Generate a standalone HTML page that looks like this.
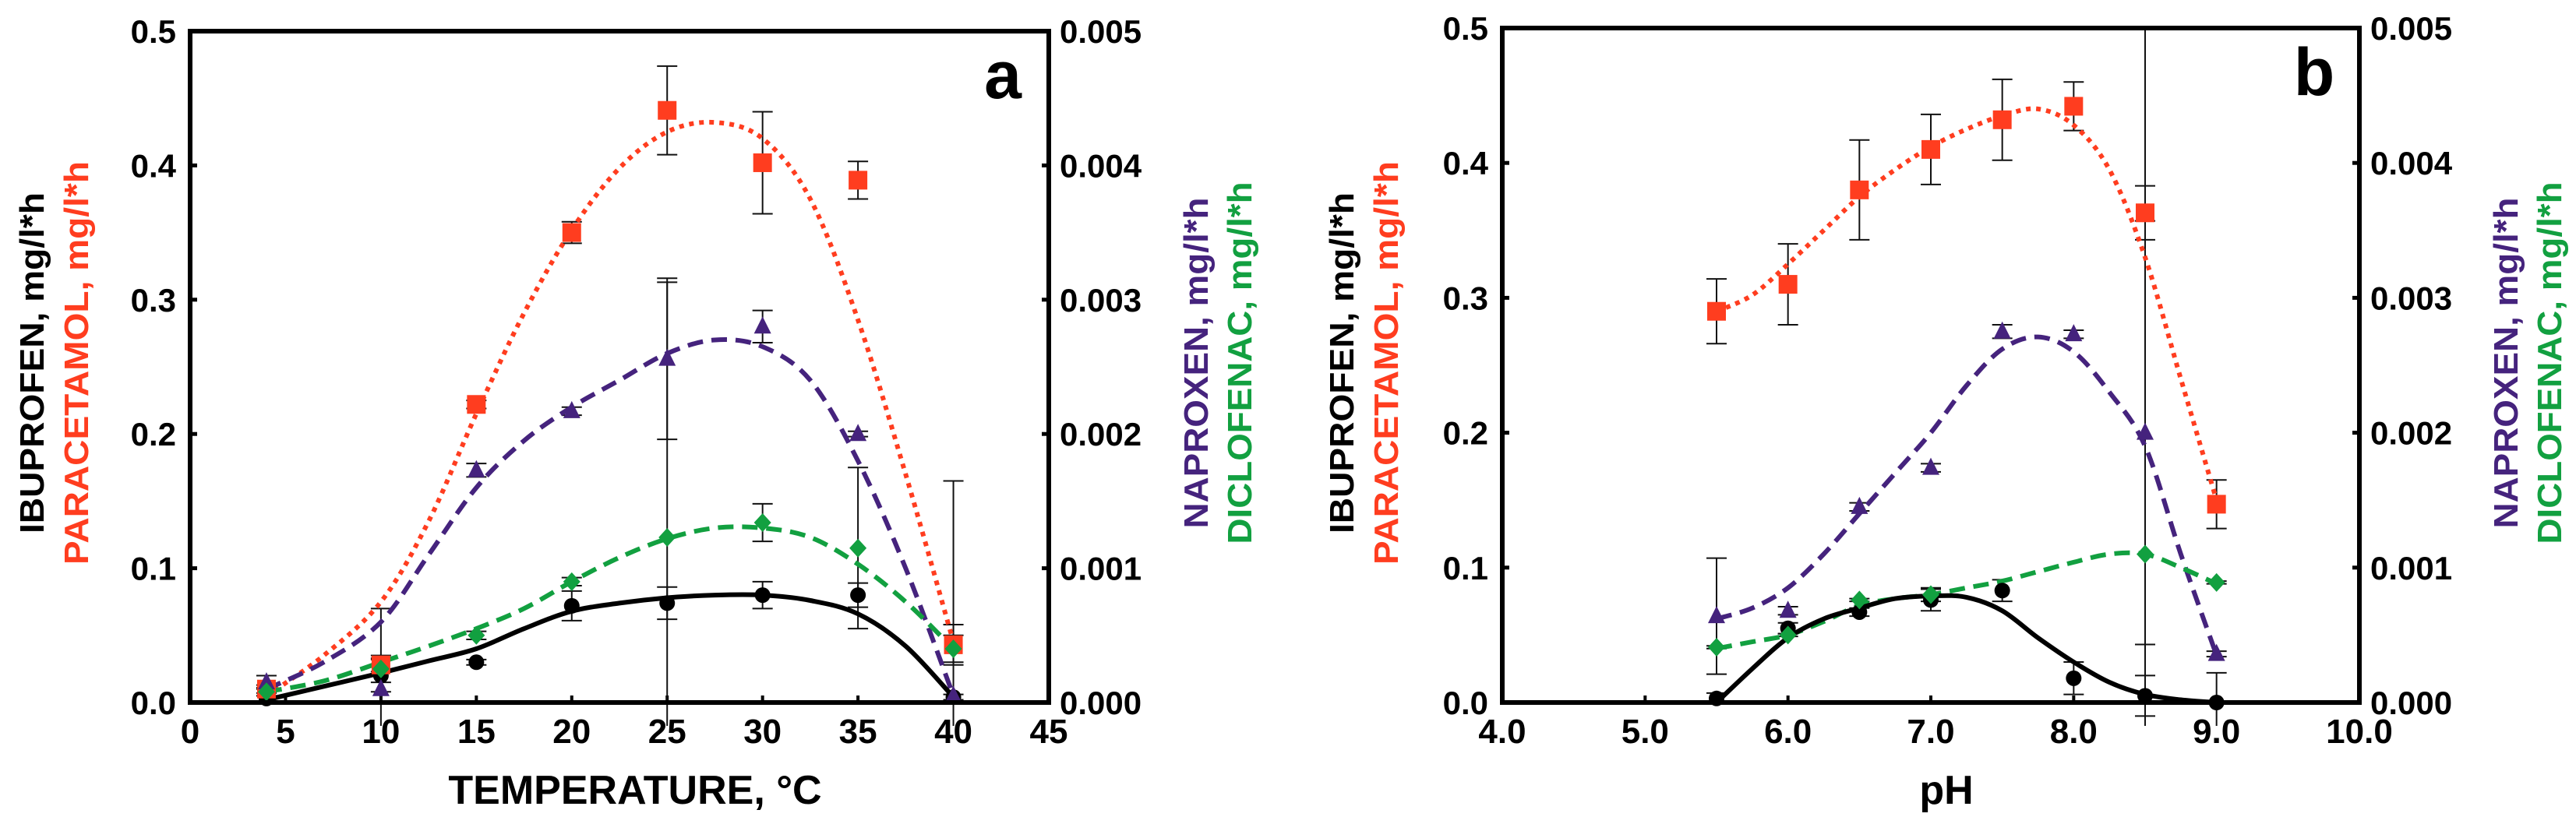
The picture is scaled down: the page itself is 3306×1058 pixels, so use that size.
<!DOCTYPE html>
<html><head><meta charset="utf-8"><style>
html,body{margin:0;padding:0;background:#fff;}
svg{display:block;font-family:"Liberation Sans",sans-serif;font-weight:bold;}
</style></head><body>
<svg id="chart" width="3306" height="1058" viewBox="0 0 3306 1058" xmlns="http://www.w3.org/2000/svg"></svg>
<script>
// ---------- Panel a data (temperature) ----------
const aX = [4,10,15,20,25,30,35,40];
const aPara = [0.010,0.028,0.222,0.350,0.441,0.402,0.389,0.043];
const aParaErr = [0.003,0.005,0.003,0.008,0.033,0.038,0.014,0.015];
const aNap = [0.00015,0.0001,0.00173,0.00217,0.00256,0.0028,0.0020,0.00005];
const aNapErr = [0.00005,0.0006,0.00005,0.00003,0.0006,0.00012,0.00002,0.0016];
const aDic = [0.00008,0.00025,0.0005,0.0009,0.00123,0.00134,0.00115,0.0004];
const aDicErr = [0.00003,0.0001,0.00003,0.00003,0.0019,0.00014,0.0006,0.0001];
const aIbu = [0.003,0.020,0.030,0.072,0.074,0.080,0.080,0.004];
const aIbuErr = [0.002,0.012,0.002,0.011,0.012,0.010,0.009,0.002];
const aFitX = [4,7,10,12.5,15,17.5,20,22.5,25,27.5,30,32.5,35,37.5,40];
const aParaFit = [0.005,0.035,0.075,0.135,0.215,0.29,0.352,0.398,0.425,0.432,0.42,0.375,0.285,0.17,0.045];
const aNapFit = [0.0001,0.0003,0.0006,0.0011,0.0016,0.00195,0.0022,0.0024,0.0026,0.0027,0.00265,0.0024,0.0018,0.001,0.00005];
const aDicFit = [0.00008,0.00016,0.0003,0.00042,0.00055,0.0007,0.0009,0.00108,0.00122,0.0013,0.0013,0.00123,0.00103,0.00075,0.0004];
const aIbuFit = [0.002,0.012,0.022,0.031,0.040,0.055,0.068,0.074,0.078,0.080,0.080,0.076,0.066,0.042,0.004];
const aXTicks = [0,5,10,15,20,25,30,35,40,45];

// ---------- Panel b data (pH) ----------
const bX = [5.5,6,6.5,7,7.5,8,8.5,9];
const bPara = [0.290,0.310,0.380,0.410,0.432,0.442,0.363,0.147];
const bParaErr = [0.024,0.030,0.037,0.026,0.030,0.018,0.020,0.018];
const bNap = [0.00064,0.00068,0.00145,0.00174,0.00275,0.00273,0.0020,0.00036];
const bNapErr = [0.00043,0.00003,0.00003,0.00003,0.00005,0.00003,0.00157,0.00002];
const bDicX = [5.5,6,6.5,7,8.5,9];
const bDic = [0.00041,0.0005,0.00076,0.0008,0.0011,0.00089];
const bDicErr = [0.00001,0.00001,0.00001,0.00005,0.0039,0.00001];
const bIbu = [0.003,0.055,0.067,0.076,0.083,0.018,0.005,0.000];
const bIbuErr = [0.004,0.004,0.003,0.008,0.008,0.012,0.015,0.022];
const bFitX = [5.5,5.75,6,6.25,6.5,6.75,7,7.25,7.5,7.75,8,8.25,8.5,8.75,9];
const bParaFit = [0.29,0.302,0.325,0.35,0.375,0.395,0.412,0.425,0.435,0.44,0.428,0.395,0.33,0.24,0.15];
const bNapFit = [0.00062,0.0007,0.00085,0.0011,0.0014,0.0017,0.002,0.00235,0.00262,0.00271,0.0026,0.0023,0.0019,0.0011,0.00035];
const bDicFit = [0.0004,0.00045,0.0005,0.0006,0.00072,0.00077,0.0008,0.00085,0.0009,0.00097,0.00104,0.0011,0.0011,0.001,0.00088];
const bIbuFit = [0.0,0.025,0.048,0.062,0.07,0.077,0.079,0.078,0.068,0.048,0.03,0.015,0.006,0.002,0.0];
const bXTicks = [4,5,6,7,8,9,10];

const leftTicks = [0,0.1,0.2,0.3,0.4,0.5];
const rightTicks = [0,0.001,0.002,0.003,0.004,0.005];

const NS='http://www.w3.org/2000/svg';
const svg=document.getElementById('chart');
const RED='#ff3d1f', PUR='#45237d', GRN='#12a040', BLK='#000';
function mk(tag,attrs,parent){const e=document.createElementNS(NS,tag);for(const k in attrs)e.setAttribute(k,attrs[k]);(parent||svg).appendChild(e);return e;}

function smooth(pts){
  let d='M'+pts[0][0]+','+pts[0][1];
  for(let i=0;i<pts.length-1;i++){
    const p0=pts[i-1]||pts[i],p1=pts[i],p2=pts[i+1],p3=pts[i+2]||p2;
    const c1=[p1[0]+(p2[0]-p0[0])/6,p1[1]+(p2[1]-p0[1])/6];
    const c2=[p2[0]-(p3[0]-p1[0])/6,p2[1]-(p3[1]-p1[1])/6];
    d+=' C'+c1[0].toFixed(1)+','+c1[1].toFixed(1)+' '+c2[0].toFixed(1)+','+c2[1].toFixed(1)+' '+p2[0].toFixed(1)+','+p2[1].toFixed(1);
  }
  return d;
}

function panel(cfg){
  const g=mk('g',{});
  
  
  const L=cfg.left,R=cfg.right,T=cfg.top,B=cfg.bottom;
  const sx=v=>L+(v-cfg.xmin)/(cfg.xmax-cfg.xmin)*(R-L);
  const syL=v=>B-v/0.5*(B-T);
  const syR=v=>B-v/0.005*(B-T);
  const clip=y=>Math.max(T,Math.min(B+30,y));
  leftTicks.forEach(t=>{
    const y=syL(t);
    mk('line',{x1:L,x2:L+9,y1:y,y2:y,stroke:'#000','stroke-width':5},g);
    const tx=mk('text',{x:L-18,y:y+15,'text-anchor':'end','font-size':42},g);
    
    
    tx.textContent=t.toFixed(1);
  });
  rightTicks.forEach(t=>{
    const y=syR(t);
    mk('line',{x1:R-9,x2:R,y1:y,y2:y,stroke:'#000','stroke-width':5},g);
    const tx=mk('text',{x:R+14,y:y+15,'font-size':42},g);
    
    
    tx.textContent=t.toFixed(3);
  });
  cfg.xticks.forEach(t=>{
    const x=sx(t);
    mk('line',{x1:x,x2:x,y1:B-9,y2:B,stroke:'#000','stroke-width':4},g);
    const tx=mk('text',{x:x,y:B+52,'text-anchor':'middle','font-size':44},g);
    
    
    tx.textContent=cfg.xfmt(t);
  });
  function errs(xs,ys,es,sy,name){
    xs.forEach((xv,i)=>{
      const x=sx(xv),y1=clip(sy(ys[i]+es[i])),y2=clip(sy(ys[i]-es[i]));
      const e=mk('path',{d:'M'+x+','+y1+'V'+y2+(sy(ys[i]+es[i])>=T?' M'+(x-13)+','+y1+'h26':'')+(sy(ys[i]-es[i])<=B+30?' M'+(x-13)+','+y2+'h26':''),stroke:'#111','stroke-width':2,fill:'none'},g);
      
      
    });
  }
  errs(cfg.x,cfg.para,cfg.paraErr,syL,'paracetamol');
  errs(cfg.x,cfg.nap,cfg.napErr,syR,'naproxen');
  errs(cfg.dicX,cfg.dic,cfg.dicErr,syR,'diclofenac');
  errs(cfg.x,cfg.ibu,cfg.ibuErr,syL,'ibuprofen');
  function fit(ys,sy,color,dash,name){
    const p=mk('path',{d:smooth(cfg.fitX.map((xv,i)=>[sx(xv),sy(ys[i])])),stroke:color,'stroke-width':6,fill:'none','stroke-dasharray':dash==='dot'?'6 7':(dash?'20 11':'none')},g);
    
    
  }
  fit(cfg.paraFit,syL,RED,'dot','paracetamol');
  fit(cfg.napFit,syR,PUR,true,'naproxen');
  fit(cfg.dicFit,syR,GRN,true,'diclofenac');
  fit(cfg.ibuFit,syL,BLK,false,'ibuprofen');
  cfg.x.forEach((xv,i)=>{
    const x=sx(xv);
    let y=syL(cfg.ibu[i]);
    const c=mk('circle',{cx:x,cy:y,r:10,fill:'#000'},g);
    
    
    y=syL(cfg.para[i]);
    const s=mk('rect',{x:x-12,y:y-12,width:24,height:24,fill:RED},g);
    
    
    y=syR(cfg.nap[i]);
    const t=mk('path',{d:'M'+x+','+(y-13)+' L'+(x+11)+','+(y+9)+' L'+(x-11)+','+(y+9)+'Z',fill:PUR},g);
    
    
  });
  cfg.dicX.forEach((xv,i)=>{
    const x=sx(xv),y=syR(cfg.dic[i]);
    const d=mk('path',{d:'M'+x+','+(y-12)+' L'+(x+11)+','+y+' L'+x+','+(y+12)+' L'+(x-11)+','+y+'Z',fill:GRN},g);
    
    
  });
  const f=mk('rect',{x:L,y:T,width:R-L,height:B-T,fill:'none',stroke:'#000','stroke-width':6},g);
  
  
  const pl=mk('text',{x:cfg.letterX,y:T+86,'text-anchor':'middle','font-size':86},g);
  
  
  pl.textContent=cfg.letter;
  const xt=mk('text',{x:(L+R)/2+20,y:1032,'text-anchor':'middle','font-size':52},g);
  
  
  xt.textContent=cfg.xtitle;
  function ytitle(x,txt,color,len,name){
    const t=mk('text',{x:0,y:0,transform:'translate('+x+',466) rotate(-90)','text-anchor':'middle','font-size':44,fill:color,textLength:len,lengthAdjust:'spacingAndGlyphs'},g);
    
    
    t.textContent=txt;
  }
  ytitle(cfg.lt1,'IBUPROFEN, mg/l*h','#000',438,'left-axis-title-ibuprofen');
  ytitle(cfg.lt1+57,'PARACETAMOL, mg/l*h',RED,518,'left-axis-title-paracetamol');
  ytitle(cfg.rt1,'NAPROXEN, mg/l*h',PUR,425,'right-axis-title-naproxen');
  ytitle(cfg.rt1+56,'DICLOFENAC, mg/l*h',GRN,465,'right-axis-title-diclofenac');
}

panel({name:'panel-a-temperature',left:244,right:1346,top:40,bottom:902,xmin:0,xmax:45,xticks:aXTicks,xfmt:v=>String(v),
  x:aX,para:aPara,paraErr:aParaErr,nap:aNap,napErr:aNapErr,dicX:aX,dic:aDic,dicErr:aDicErr,ibu:aIbu,ibuErr:aIbuErr,
  fitX:aFitX,paraFit:aParaFit,napFit:aNapFit,dicFit:aDicFit,ibuFit:aIbuFit,letter:'a',letterX:1287,xtitle:'TEMPERATURE, °C',lt1:56,rt1:1550});
panel({name:'panel-b-ph',left:1928,right:3028,top:36,bottom:902,xmin:4,xmax:10,xticks:bXTicks,xfmt:v=>v.toFixed(1),
  x:bX,para:bPara,paraErr:bParaErr,nap:bNap,napErr:bNapErr,dicX:bDicX,dic:bDic,dicErr:bDicErr,ibu:bIbu,ibuErr:bIbuErr,
  fitX:bFitX,paraFit:bParaFit,napFit:bNapFit,dicFit:bDicFit,ibuFit:bIbuFit,letter:'b',letterX:2970,xtitle:'pH',lt1:1737,rt1:3231});
</script>
</body></html>
